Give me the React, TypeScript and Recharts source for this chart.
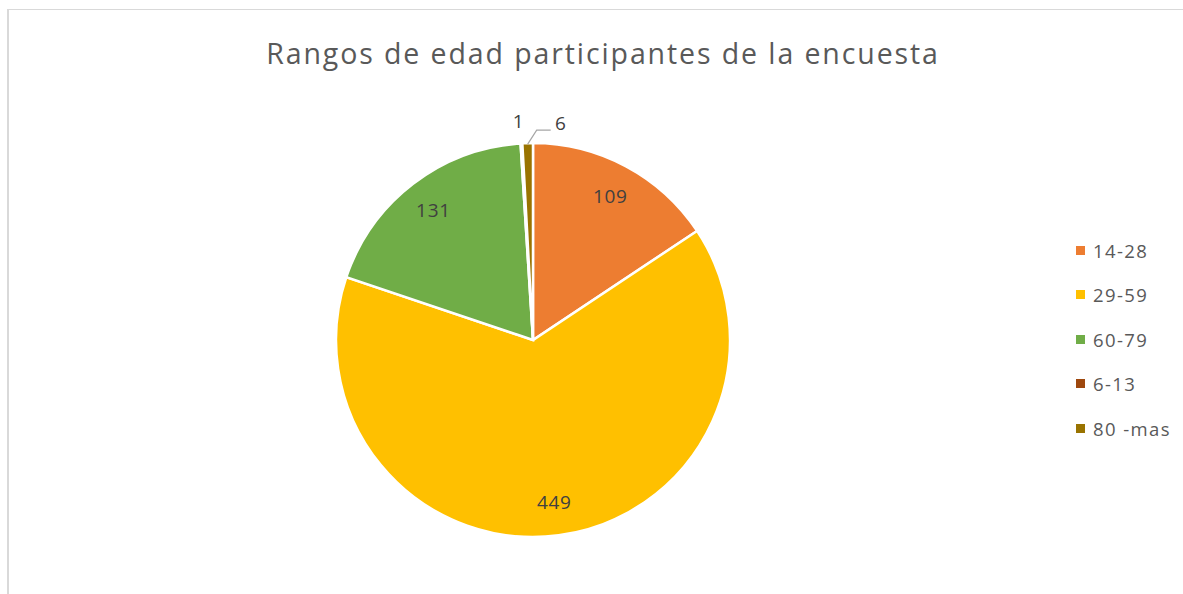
import React from 'react';
import { PieChart, Pie, Cell, Legend } from 'recharts';

const categories = ['14-28', '29-59', '60-79', '6-13', '80 -mas'];
const counts = [109, 449, 131, 1, 6];
const colors = ['#ED7D31', '#FFC000', '#70AD47', '#9E480E', '#997300'];

const data = categories.map((name, i) => ({ name, value: counts[i] }));

const RADIAN = Math.PI / 180;
const FONT = '"Open Sans", "Noto Sans", sans-serif';

const renderLabel = ({ cx, cy, midAngle, outerRadius, value, index }: any) => {
  const cos = Math.cos(-midAngle * RADIAN);
  const sin = Math.sin(-midAngle * RADIAN);
  const style = { fontFamily: FONT, fontSize: 19, fill: '#404040', letterSpacing: 0.7 };

  if (index === 3) {
    // tiny slice, text just above the pie
    const px = cx + outerRadius * cos;
    return (
      <text x={px - 3} y={cy - outerRadius - 22} textAnchor="middle" dominantBaseline="central" {...style}>
        {value}
      </text>
    );
  }
  if (index === 4) {
    const px = cx + (outerRadius - 1) * cos;
    const py = cy + (outerRadius - 1) * sin;
    const kx = px + 9;
    const ky = py - 14;
    return (
      <g>
        <polyline points={`${px},${py} ${kx},${ky} ${kx + 14},${ky}`} fill="none" stroke="#a6a6a6" strokeWidth={1.2} />
        <text x={kx + 24} y={ky - 7} textAnchor="middle" dominantBaseline="central" {...style}>
          {value}
        </text>
      </g>
    );
  }
  const r = outerRadius * 0.83;
  return (
    <text x={cx + r * cos} y={cy + r * sin} textAnchor="middle" dominantBaseline="central" {...style}>
      {value}
    </text>
  );
};

const renderLegend = () => (
  <div style={{ fontFamily: FONT, fontSize: 18.5, color: '#595959', letterSpacing: 1.4, whiteSpace: 'nowrap' }}>
    {categories.map((name, i) => (
      <div key={name} style={{ display: 'flex', alignItems: 'center', height: 44.5 }}>
        <span
          style={{ width: 9, height: 9, flexShrink: 0, background: colors[i], display: 'inline-block', marginRight: 8 }}
        />
        <span>{name}</span>
      </div>
    ))}
  </div>
);

export default function App() {
  return (
    <div
      style={{
        position: 'fixed',
        left: 7,
        top: 9,
        width: 1174,
        height: 584,
        overflow: 'hidden',
        background: '#fff',
        borderTop: '1.5px solid #d9d9d9',
        borderLeft: '2px solid #d9d9d9',
      }}
    >
      <div
        style={{
          position: 'absolute',
          left: 0,
          width: 1188,
          top: 24,
          textAlign: 'center',
          fontFamily: FONT,
          fontSize: 28.5,
          letterSpacing: 1.9,
          color: '#595959',
          whiteSpace: 'nowrap',
        }}
      >
        Rangos de edad participantes de la encuesta
      </div>
      <div style={{ position: 'absolute', left: -1, top: -2 }}>
        <PieChart width={1160} height={578} margin={{ top: 0, right: 0, bottom: 0, left: 0 }}>
          <Pie
            data={data}
            dataKey="value"
            nameKey="name"
            cx={525}
            cy={332}
            outerRadius={197}
            startAngle={90}
            endAngle={-270}
            stroke="#ffffff"
            strokeWidth={2.5}
            labelLine={false}
            label={renderLabel}
            isAnimationActive={false}
          >
            {data.map((entry, index) => (
              <Cell key={`cell-${index}`} fill={colors[index]} />
            ))}
          </Pie>
          <Legend content={renderLegend} wrapperStyle={{ left: 1068, top: 220, width: 110 }} />
        </PieChart>
      </div>
    </div>
  );
}
